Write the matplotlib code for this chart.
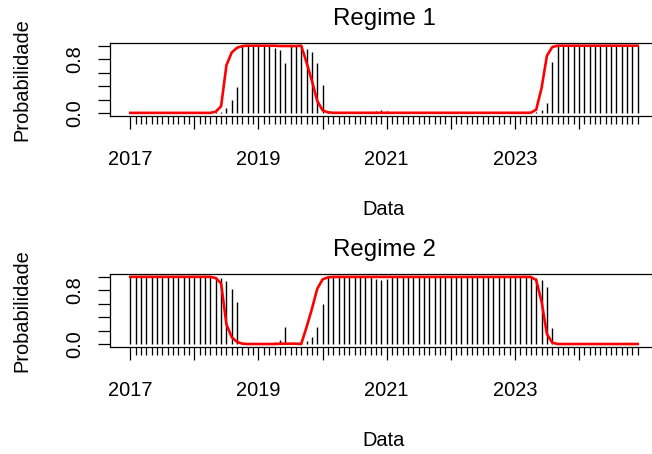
import numpy as np
import matplotlib
matplotlib.use("Agg")
import matplotlib.pyplot as plt

plt.rcParams["font.family"] = ["Liberation Sans", "DejaVu Sans"]

# Monthly observations, Jan 2017 .. Dec 2024
start_year = 2017
n_months = 96

# Filtered probability of regime 1 (vertical bars)
filtered_r1 = [
    0.005, 0.005, 0.005, 0.005, 0.005, 0.005, 0.005, 0.005, 0.005, 0.005, 0.005, 0.005,  # 2017
    0.005, 0.005, 0.005, 0.005, 0.01, 0.02, 0.07, 0.19, 0.38, 1.0, 1.0, 1.0,               # 2018
    1.0, 1.0, 1.0, 0.97, 0.94, 0.75, 1.0, 1.0, 1.0, 0.95, 0.90, 0.75,                      # 2019
    0.41, 0.01, 0.005, 0.005, 0.005, 0.005, 0.005, 0.005, 0.005, 0.005, 0.03, 0.05,         # 2020
    0.03, 0.01, 0.005, 0.005, 0.005, 0.005, 0.005, 0.005, 0.005, 0.005, 0.005, 0.005,       # 2021
    0.005, 0.005, 0.005, 0.005, 0.005, 0.005, 0.005, 0.005, 0.005, 0.005, 0.005, 0.005,     # 2022
    0.005, 0.005, 0.005, 0.005, 0.02, 0.05, 0.15, 0.76, 1.0, 1.0, 1.0, 1.0,                # 2023
    1.0, 1.0, 1.0, 1.0, 1.0, 1.0, 1.0, 1.0, 1.0, 1.0, 1.0, 1.0,                             # 2024
]

# Smoothed probability of regime 1 (red line)
smoothed_r1 = [
    0.002, 0.002, 0.002, 0.002, 0.002, 0.002, 0.002, 0.002, 0.002, 0.002, 0.002, 0.002,
    0.002, 0.002, 0.002, 0.002, 0.02, 0.10, 0.71, 0.90, 0.97, 0.995, 1.0, 1.0,
    1.0, 1.0, 1.0, 1.0, 0.995, 0.995, 0.995, 0.995, 1.0, 0.75, 0.48, 0.18,
    0.04, 0.01, 0.003, 0.003, 0.003, 0.003, 0.003, 0.003, 0.003, 0.003, 0.003, 0.003,
    0.003, 0.003, 0.003, 0.003, 0.003, 0.003, 0.003, 0.003, 0.003, 0.003, 0.003, 0.003,
    0.003, 0.003, 0.003, 0.003, 0.003, 0.003, 0.003, 0.003, 0.003, 0.003, 0.003, 0.003,
    0.003, 0.003, 0.003, 0.005, 0.05, 0.37, 0.85, 0.98, 1.0, 1.0, 1.0, 1.0,
    1.0, 1.0, 1.0, 1.0, 1.0, 1.0, 1.0, 1.0, 1.0, 1.0, 1.0, 1.0,
]

# Two-state model: regime 2 is the complement of regime 1
filtered_r2 = [1.0 - p for p in filtered_r1]
smoothed_r2 = [1.0 - p for p in smoothed_r1]

panel_titles = ["Regime 1", "Regime 2"]
x_label = "Data"
y_label = "Probabilidade"

year_ticks = [2017, 2018, 2019, 2020, 2021, 2022, 2023, 2024]
year_labels = ["2017", "", "2019", "", "2021", "", "2023", ""]
prob_ticks = [0.0, 0.2, 0.4, 0.6, 0.8, 1.0]
prob_labels = ["0.0", "", "", "", "0.8", ""]

t = start_year + np.arange(n_months) / 12.0

W, H = 652, 454
fig = plt.figure(figsize=(W / 100, H / 100), dpi=100)


def fx(px):
    return px / W


def fy(py):
    return 1 - py / H


BASE = 14.4      # axis text size (pt)
TITLE = 17.3     # panel title size (pt)

panels = [
    (filtered_r1, smoothed_r1, 0.0),
    (filtered_r2, smoothed_r2, 231.0),
]

x_pad = (t[-1] - t[0]) * 0.04
for k, (bars, line, dy) in enumerate(panels):
    top, bottom = 43.0 + dy, 115.7 + dy
    ax = fig.add_axes([fx(110), fy(bottom), 548 / W, (bottom - top) / H])
    ax.vlines(t, 0, bars, color="black", lw=1.0)
    ax.plot(t, line, color="red", lw=1.9)

    ax.set_xlim(t[0] - x_pad, t[-1] + x_pad)
    ax.set_ylim(-0.04, 1.04)

    ax.set_xticks(year_ticks)
    ax.set_xticklabels(year_labels)
    ax.set_xticks(t, minor=True)
    ax.set_yticks(prob_ticks)
    ax.set_yticklabels(prob_labels)

    ax.tick_params(axis="x", which="major", length=9.6, width=0.9,
                   labelsize=BASE, pad=26.0)
    ax.tick_params(axis="x", which="minor", length=5.4, width=0.9)
    ax.tick_params(axis="y", which="major", length=9.0, width=0.9,
                   labelsize=BASE, pad=12.6)
    plt.setp(ax.get_xticklabels(), va="baseline")
    plt.setp(ax.get_yticklabels(), rotation=90, rotation_mode="anchor",
             ha="center", va="baseline")
    for sp in ax.spines.values():
        sp.set_linewidth(0.9)

    fig.text(fx(384), fy(25 + dy), panel_titles[k], ha="center",
             va="baseline", fontsize=TITLE)
    fig.text(fx(384), fy(215 + dy), x_label, ha="center", va="baseline",
             fontsize=BASE)
    fig.text(fx(27), fy((top + bottom) / 2), y_label, rotation=90,
             rotation_mode="anchor", ha="center", va="baseline",
             fontsize=BASE)

fig.savefig("out.png", dpi=100)
